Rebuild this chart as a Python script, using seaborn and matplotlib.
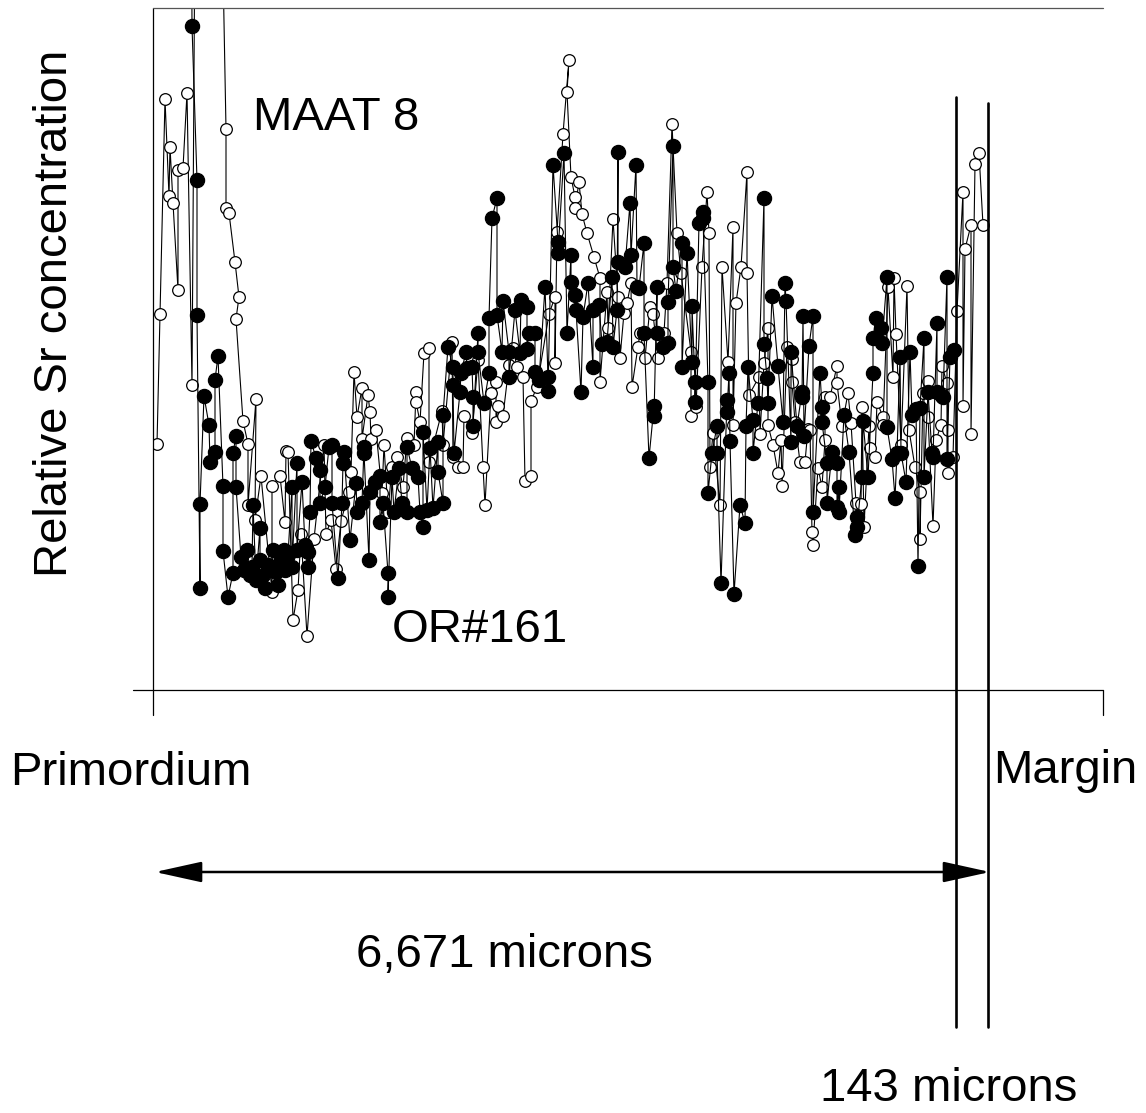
import matplotlib
matplotlib.use("Agg")
import matplotlib.pyplot as plt
import seaborn as sns

# ---------------- data (position along transect, relative Sr) ----------------
maat_pos = [
    4, 7, 12, 16, 17, 20, 25, 25, 30, 34,
    39, 44, 65, 73, 73, 76, 82, 86, 83, 90,
    95, 95, 103, 102, 108, 119, 119, 127, 132, 133,
    135, 140, 145, 148, 154, 161, 171, 173, 178, 183,
    188, 196, 198, 201, 204, 209, 209, 215, 217, 218,
    223, 229, 231, 235, 239, 244, 250, 254, 261, 263,
    263, 267, 271, 276, 276, 289, 290, 299, 300, 305,
    310, 311, 319, 325, 330, 332, 338, 343, 343, 345,
    350, 356, 360, 364, 370, 372, 378, 378, 384, 396,
    402, 402, 404, 410, 416, 414, 418, 422, 422, 426,
    429, 434, 441, 447, 447, 454, 455, 460, 465, 467,
    471, 474, 478, 479, 485, 487, 492, 497, 500, 505,
    511, 514, 519, 524, 528, 538, 538, 543, 549, 554,
    556, 557, 560, 567, 569, 575, 580, 580, 583, 588,
    594, 594, 596, 606, 607, 611, 615, 615, 620, 625,
    628, 629, 634, 639, 639, 642, 647, 652, 655, 657,
    659, 660, 665, 669, 672, 672, 677, 684, 684, 689,
    695, 698, 703, 708, 709, 711, 716, 717, 722, 724,
    730, 730, 735, 740, 741, 743, 748, 754, 756, 762,
    767, 767, 770, 775, 775, 780, 783, 788, 789, 794,
    795, 795, 800, 804, 810, 810, 812, 818, 818, 822,
    826, 830,
]
maat_sr = [
    246, 376, 591, 494, 543, 487, 400, 520, 522, 597,
    305, 1090, 990, 561, 482, 477, 428, 393, 371, 269,
    246, 185, 291, 170, 214, 98, 204, 214, 168, 239,
    238, 70, 100, 156, 54, 151, 245, 156, 170, 121,
    169, 198, 218, 318, 273, 302, 251, 295, 278, 251,
    260, 197, 245, 178, 223, 233, 203, 252, 245, 298,
    288, 268, 337, 342, 228, 279, 245, 348, 233, 223,
    223, 274, 257, 330, 223, 185, 297, 308, 268, 284,
    274, 325, 342, 323, 313, 209, 214, 289, 303, 376,
    393, 327, 458, 556, 630, 598, 513, 493, 482, 508,
    476, 457, 433, 412, 308, 398, 362, 471, 393, 332,
    377, 387, 407, 303, 343, 357, 332, 383, 376, 332,
    357, 407, 566, 457, 417, 338, 274, 283, 423, 498,
    457, 223, 257, 185, 423, 328, 463, 265, 387, 423,
    518, 417, 295, 313, 256, 327, 362, 265, 245, 217,
    250, 204, 343, 331, 308, 268, 228, 228, 261, 260,
    158, 145, 222, 203, 250, 293, 293, 324, 307, 264,
    297, 267, 187, 186, 283, 163, 264, 242, 233, 288,
    273, 265, 403, 313, 412, 356, 245, 404, 260, 223,
    198, 151, 297, 309, 273, 164, 250, 265, 324, 307,
    260, 217, 233, 379, 498, 284, 441, 465, 256, 526,
    537, 465,
]

or_pos = [
    38, 39, 44, 44, 47, 47, 51, 56, 57, 62,
    62, 65, 70, 70, 75, 80, 80, 83, 83, 88,
    91, 94, 97, 99, 100, 103, 107, 107, 110, 112,
    115, 118, 120, 123, 125, 128, 131, 132, 135, 139,
    139, 144, 144, 149, 152, 155, 155, 157, 158, 163,
    167, 167, 172, 176, 179, 179, 185, 189, 190, 191,
    197, 203, 204, 209, 211, 211, 216, 217, 222, 227,
    227, 230, 235, 235, 239, 241, 246, 249, 254, 254,
    259, 265, 267, 270, 270, 274, 277, 280, 285, 285,
    290, 290, 295, 300, 300, 301, 307, 308, 313, 314,
    319, 320, 320, 325, 325, 331, 336, 336, 339, 344,
    344, 349, 350, 356, 356, 362, 367, 368, 374, 374,
    376, 382, 382, 386, 392, 395, 395, 400, 405, 405,
    411, 414, 418, 418, 422, 423, 428, 430, 435, 440,
    440, 446, 449, 454, 459, 460, 464, 465, 465, 472,
    477, 478, 483, 484, 486, 491, 491, 496, 501, 501,
    504, 504, 510, 515, 515, 520, 520, 523, 529, 529,
    534, 539, 539, 542, 542, 546, 550, 550, 555, 555,
    559, 564, 564, 568, 574, 574, 576, 577, 581, 587,
    592, 593, 595, 600, 600, 605, 611, 611, 614, 615,
    619, 625, 630, 632, 633, 638, 638, 644, 649, 649,
    650, 651, 656, 660, 660, 667, 669, 669, 674, 674,
    679, 684, 684, 686, 686, 691, 696, 702, 704, 704,
    709, 710, 715, 720, 720, 723, 728, 729, 734, 734,
    739, 742, 744, 747, 748, 753, 757, 759, 763, 765,
    767, 771, 771, 775, 779, 780, 784, 784, 789, 790,
    794, 794, 797, 801,
]
or_sr = [
    890, 664, 510, 375, 102, 186, 294, 265, 228, 238,
    310, 334, 204, 139, 93, 117, 237, 254, 203, 133,
    120, 140, 115, 123, 185, 110, 162, 130, 115, 102,
    125, 120, 140, 118, 105, 130, 140, 120, 135, 203,
    123, 227, 140, 208, 145, 123, 138, 178, 249, 232,
    220, 187, 203, 243, 245, 187, 112, 187, 227, 238,
    150, 207, 178, 187, 243, 237, 130, 198, 208, 214,
    168, 187, 117, 93, 213, 178, 222, 187, 178, 243,
    222, 213, 178, 163, 258, 180, 242, 182, 248, 218,
    187, 275, 343, 323, 305, 237, 298, 317, 338, 322,
    323, 293, 264, 357, 338, 287, 317, 372, 472, 492,
    375, 338, 389, 338, 313, 380, 337, 390, 383, 341,
    357, 357, 318, 310, 403, 313, 299, 525, 448, 437,
    537, 357, 435, 408, 395, 380, 298, 373, 407, 323,
    380, 385, 346, 348, 413, 343, 380, 538, 428, 423,
    487, 435, 525, 403, 402, 447, 357, 232, 284, 274,
    403, 357, 343, 347, 388, 544, 423, 399, 447, 323,
    437, 328, 384, 308, 288, 467, 478, 472, 308, 197,
    237, 264, 237, 107, 290, 278, 317, 249, 96, 185,
    167, 264, 323, 270, 237, 287, 492, 346, 312, 287,
    394, 324, 268, 407, 389, 248, 338, 264, 298, 293,
    374, 254, 344, 374, 178, 317, 283, 268, 227, 187,
    238, 227, 183, 203, 178, 275, 238, 155, 173, 163,
    213, 269, 213, 317, 352, 372, 362, 347, 413, 263,
    231, 192, 237, 333, 237, 208, 338, 275, 281, 124,
    282, 352, 213, 298, 237, 233, 367, 298, 294, 293,
    413, 231, 333, 340,
]

series_labels = ["MAAT 8", "OR#161"]
y_label = "Relative Sr concentration"
start_label, end_label = "Primordium", "Margin"
core_label, edge_label = "6,671 microns", "143 microns"
core_end, edge_end = 803, 835   # transect positions of the two marker lines

assert len(maat_pos) == len(maat_sr)
assert len(or_pos) == len(or_sr)

# ---------------- figure ----------------
sns.set_theme(style="white")
plt.rcParams["font.family"] = ["Liberation Sans", "DejaVu Sans"]

W, H = 1146, 1113
fig = plt.figure(figsize=(W / 100, H / 100), dpi=100)
ax = fig.add_axes([153 / W, 1 - 690 / H, 950 / W, 682 / H])

line_kw = dict(sort=False, estimator=None, ax=ax, color="black", linewidth=0.8,
               marker="o", markeredgecolor="black", markeredgewidth=0.9, legend=False)
sns.lineplot(x=maat_pos, y=maat_sr, markersize=8.4, markerfacecolor="white", **line_kw)
sns.lineplot(x=or_pos, y=or_sr, markersize=10.2, markerfacecolor="black", **line_kw)

ax.set_xlim(0, 950)
ax.set_ylim(0, 682)
ax.set_xticks([])
ax.set_yticks([])
ax.set_xlabel("")
ax.set_ylabel("")
for s in ax.spines.values():
    s.set_visible(False)
ax.set_facecolor("white")

# frame lines (axes fraction)
fr = dict(transform=ax.transAxes, clip_on=False, color="black", linewidth=0.9)
ax.plot([0, 0], [-25 / 682, 1], **fr)
ax.plot([-20 / 950, 1], [0, 0], **fr)
ax.plot([0, 1], [1, 1], color="#555555", linewidth=0.9, transform=ax.transAxes, clip_on=False)
ax.plot([1, 1], [-25 / 682, 0], **fr)

# boundary lines
ax.plot([core_end, core_end], [593, -337], color="black", linewidth=1.9, clip_on=False)
ax.plot([edge_end, edge_end], [587, -337], color="black", linewidth=1.9, clip_on=False)

# double arrow
ax.annotate("", xy=(2, -182), xytext=(edge_end + 2, -182),
            arrowprops=dict(arrowstyle="<|-|>,head_length=1.45,head_width=0.32",
                            mutation_scale=20, lw=1.8, color="black",
                            shrinkA=0, shrinkB=0),
            annotation_clip=False)

fs = 34
def ftext(x, y, s, size=fs, **kw):
    fig.text(x / W, 1 - y / H, s, fontsize=size, color="black", **kw)

ftext(253, 130, series_labels[0], ha="left", va="baseline")
ftext(392, 642, series_labels[1], ha="left", va="baseline")
ftext(10, 785, start_label, ha="left", va="baseline")
ftext(993, 783, end_label, ha="left", va="baseline")
ftext(504, 967, core_label, ha="center", va="baseline")
ftext(820, 1111, edge_label, ha="left", va="bottom")
ftext(55, 313, y_label, ha="center", va="center", rotation=90)

fig.savefig("out.png", dpi=100, facecolor="white")
